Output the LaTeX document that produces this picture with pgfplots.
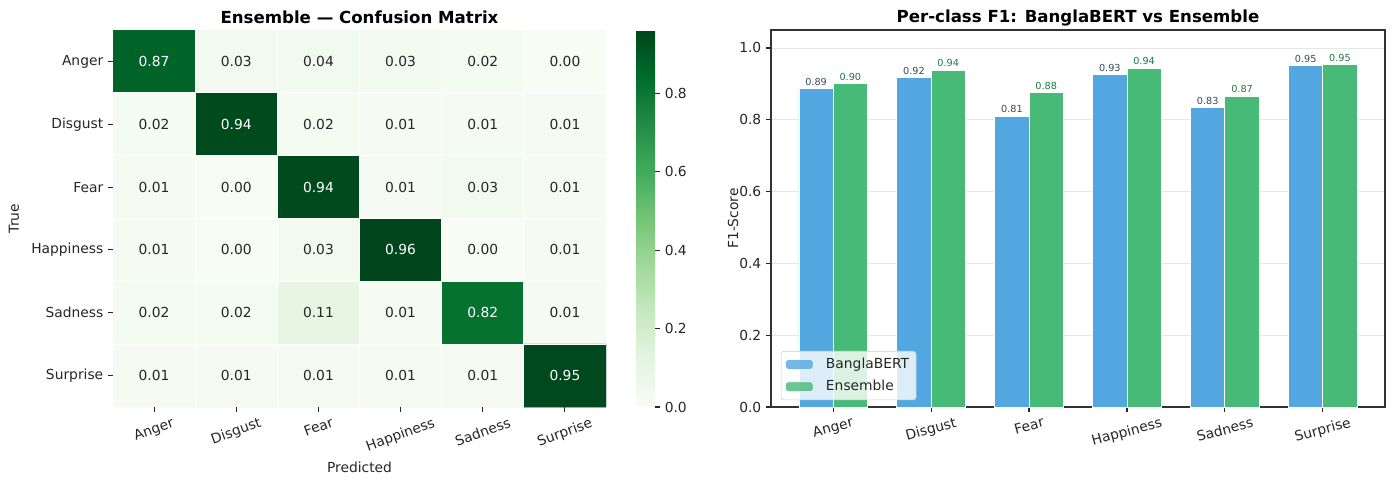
\documentclass[border=0pt]{standalone}
\usepackage{pgfplots}
\pgfplotsset{compat=1.18}
\usepackage{fontspec}
\setmainfont{DejaVu Sans}
\usepackage{graphicx}
\definecolor{bblue}{RGB}{83,167,224}
\definecolor{bgreen}{RGB}{71,186,120}
\definecolor{txtdark}{RGB}{38,38,38}
\definecolor{lblblue}{RGB}{52,73,94}
\definecolor{lblgreen}{RGB}{30,120,65}
\newcommand{\fs}[1]{\fontsize{#1}{#1}\selectfont}
\pgfplotsset{boxlegend/.style={legend image code/.code={\draw[##1] (0pt,-3.5pt) rectangle (20pt,3.5pt);}}}
\pgfplotstableread{
x y c
0 0 0.87
1 0 0.03
2 0 0.04
3 0 0.03
4 0 0.02
5 0 0.00
0 1 0.02
1 1 0.94
2 1 0.02
3 1 0.01
4 1 0.01
5 1 0.01
0 2 0.01
1 2 0.00
2 2 0.94
3 2 0.01
4 2 0.03
5 2 0.01
0 3 0.01
1 3 0.00
2 3 0.03
3 3 0.96
4 3 0.00
5 3 0.01
0 4 0.02
1 4 0.02
2 4 0.11
3 4 0.01
4 4 0.82
5 4 0.01
0 5 0.01
1 5 0.01
2 5 0.01
3 5 0.01
4 5 0.01
5 5 0.95
}\cmtable
\begin{document}
\begin{tikzpicture}
\useasboundingbox (0,0) rectangle (1005.84bp,344.88bp);
% ---------------- Heatmap ----------------
\begin{axis}[
  at={(81.36bp,51.84bp)}, anchor=south west,
  width=354.96bp, height=271.44bp, scale only axis,
  xmin=-0.5, xmax=5.5, ymin=-0.5, ymax=5.5, y dir=reverse,
  axis line style={draw=none},
  axis on top,
  tick align=outside, tick pos=left,
  major tick length=3.5bp,
  minor tick length=0pt,
  tick style={color=txtdark, line width=0.8bp},
  xtick={0,...,5}, ytick={0,...,5},
  minor xtick={0.5,1.5,2.5,3.5,4.5},
  minor ytick={0.5,1.5,2.5,3.5,4.5},
  xminorgrids, yminorgrids,
  minor grid style={white, line width=0.5bp},
  xticklabels={\rotatebox{20}{Anger},\rotatebox{20}{Disgust},\rotatebox{20}{Fear},\rotatebox{20}{Happiness},\rotatebox{20}{Sadness},\rotatebox{20}{Surprise}},
  yticklabels={Anger,Disgust,Fear,Happiness,Sadness,Surprise},
  ticklabel style={font=\fs{10}, text=txtdark},
  xticklabel style={anchor=north},
  colormap={greens}{rgb255=(247,252,245) rgb255=(229,245,224) rgb255=(199,233,192) rgb255=(161,217,155) rgb255=(116,196,118) rgb255=(65,171,93) rgb255=(35,139,69) rgb255=(0,109,44) rgb255=(0,68,27)},
  point meta min=0, point meta max=0.961,
  colorbar,
  colorbar style={
    at={(parent axis.north east)}, anchor=north west, xshift=13.1bp,
    width=13.68bp, height=271.44bp, scale only axis,
    ytick={0,0.2,0.4,0.6,0.8},
    yticklabel style={/pgf/number format/.cd, fixed, fixed zerofill, precision=1, assume math mode=true, /tikz/.cd, font=\fs{10}, text=txtdark},
    axis line style={draw=none},
    tick align=outside, ytick pos=right, yticklabel pos=right,
    major tick length=3.5bp,
    tick style={color=txtdark, line width=0.8bp},
  },
  title={\bfseries Ensemble — Confusion Matrix},
  title style={at={(axis description cs:0.5,1.0106)}, anchor=center, font=\fs{12}},
  xlabel={Predicted}, ylabel={True},
  xlabel style={at={(axis description cs:0.5,-0.159)}, anchor=center, font=\fs{10}, text=txtdark},
  ylabel style={at={(axis description cs:-0.2008,0.5)}, anchor=center, font=\fs{10}, text=txtdark},
]
\addplot[matrix plot*, mesh/cols=6, point meta=explicit] table[meta=c] {\cmtable};
\addplot[only marks, mark=none, point meta=explicit symbolic, nodes near coords,
  every node near coord/.append style={anchor=center, font=\fs{10}, text=txtdark}]
  coordinates {
  (1,0)[0.03] (2,0)[0.04] (3,0)[0.03] (4,0)[0.02] (5,0)[0.00]
  (0,1)[0.02] (2,1)[0.02] (3,1)[0.01] (4,1)[0.01] (5,1)[0.01]
  (0,2)[0.01] (1,2)[0.00] (3,2)[0.01] (4,2)[0.03] (5,2)[0.01]
  (0,3)[0.01] (1,3)[0.00] (2,3)[0.03] (4,3)[0.00] (5,3)[0.01]
  (0,4)[0.02] (1,4)[0.02] (2,4)[0.11] (3,4)[0.01] (5,4)[0.01]
  (0,5)[0.01] (1,5)[0.01] (2,5)[0.01] (3,5)[0.01] (4,5)[0.01]
  };
\addplot[only marks, mark=none, point meta=explicit symbolic, nodes near coords,
  every node near coord/.append style={anchor=center, font=\fs{10}, text=white}]
  coordinates {(0,0)[0.87] (1,1)[0.94] (2,2)[0.94] (3,3)[0.96] (4,4)[0.82] (5,5)[0.95]};
\end{axis}
% ---------------- Bar chart ----------------
\begin{axis}[
  at={(555.12bp,51.84bp)}, anchor=south west,
  width=442.08bp, height=271.44bp, scale only axis,
  xmin=-0.635, xmax=5.635, ymin=0, ymax=1.05,
  xtick={0,...,5},
  xticklabels={\rotatebox{15}{Anger},\rotatebox{15}{Disgust},\rotatebox{15}{Fear},\rotatebox{15}{Happiness},\rotatebox{15}{Sadness},\rotatebox{15}{Surprise}},
  ytick={0,0.2,0.4,0.6,0.8,1.0},
  yticklabel style={/pgf/number format/.cd, fixed, fixed zerofill, precision=1, assume math mode=true},
  ticklabel style={font=\fs{10}, text=txtdark},
  xticklabel style={anchor=north},
  ymajorgrids, grid style={color=black!10, line width=0.6bp},
  axis line style={color=black!80, line width=0.8bp},
  tick align=outside, tick pos=left, major tick length=3.5bp,
  tick style={color=txtdark, line width=0.8bp},
  title={\bfseries Per-class F1: BanglaBERT vs Ensemble},
  title style={at={(axis description cs:0.5,1.0106)}, anchor=center, font=\fs{12}},
  ylabel={F1-Score},
  ylabel style={at={(axis description cs:-0.0619,0.5)}, anchor=center, font=\fs{10}, text=txtdark},
  legend style={at={(axis description cs:0.016,0.018)}, anchor=south west,
    draw=black!20, fill=white, fill opacity=0.8, text opacity=1, rounded corners=2pt,
    font=\fs{10}, row sep=3pt, inner sep=3pt, text=txtdark,
    /tikz/every odd column/.append style={column sep=7bp}},
  legend cell align=left,
]
\addplot[ybar, bar width=0.35, bar shift=0pt, fill=bblue, draw=white, line width=0.6bp,
  forget plot, point meta=explicit symbolic, nodes near coords,
  every node near coord/.append style={anchor=south, inner sep=0pt, yshift=2bp, font=\fs{7}, text=lblblue}]
  coordinates {(-0.175,0.886)[0.89] (0.825,0.918)[0.92] (1.825,0.810)[0.81] (2.825,0.926)[0.93] (3.825,0.833)[0.83] (4.825,0.951)[0.95]};
\addplot[ybar, bar width=0.35, bar shift=0pt, fill=bgreen, draw=white, line width=0.6bp,
  forget plot, point meta=explicit symbolic, nodes near coords,
  every node near coord/.append style={anchor=south, inner sep=0pt, yshift=2bp, font=\fs{7}, text=lblgreen}]
  coordinates {(0.175,0.900)[0.90] (1.175,0.938)[0.94] (2.175,0.876)[0.88] (3.175,0.944)[0.94] (4.175,0.866)[0.87] (5.175,0.953)[0.95]};
\addlegendimage{fill=bblue, draw=white, boxlegend}
\addlegendentry{BanglaBERT}
\addlegendimage{fill=bgreen, draw=white, boxlegend}
\addlegendentry{Ensemble}
\end{axis}
\end{tikzpicture}
\end{document}
